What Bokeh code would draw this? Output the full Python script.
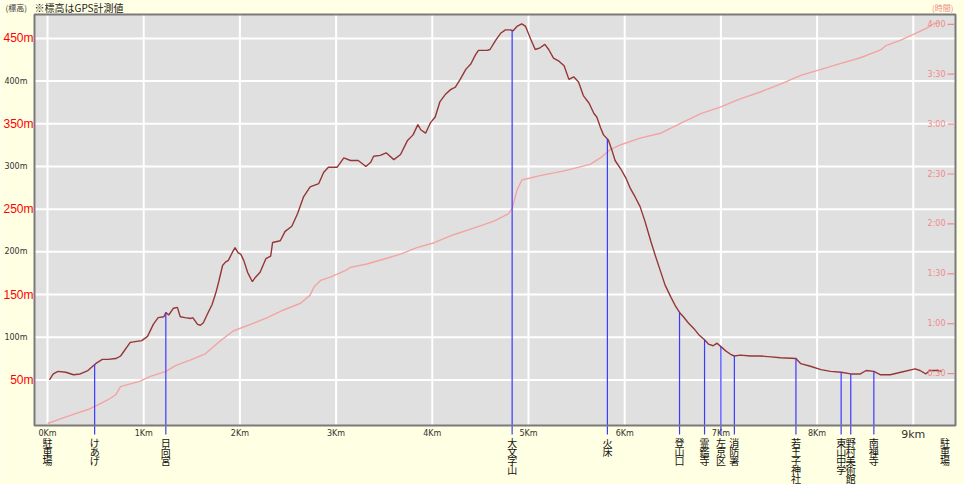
import numpy as np
from bokeh.embed import file_html
from bokeh.resources import INLINE
from bokeh.plotting import figure
from bokeh.models import Range1d
from bokeh.core.properties import value

# ---------------- data ----------------
elev_km = [0.02, 0.06, 0.11, 0.19, 0.27, 0.34, 0.42, 0.47, 0.50, 0.57, 0.63, 0.71, 0.76, 0.86, 0.98,
           1.04, 1.10, 1.15, 1.21, 1.23, 1.26, 1.31, 1.35, 1.38, 1.43, 1.49, 1.51, 1.56, 1.59, 1.62,
           1.67, 1.71, 1.75, 1.78, 1.82, 1.85, 1.88, 1.92, 1.95, 1.98, 2.01, 2.04, 2.08, 2.13, 2.16,
           2.21, 2.27, 2.32, 2.34, 2.42, 2.47, 2.54, 2.60, 2.66, 2.73, 2.82, 2.87, 2.92, 3.01, 3.08,
           3.15, 3.23, 3.31, 3.36, 3.39, 3.46, 3.52, 3.60, 3.67, 3.74, 3.80, 3.85, 3.88, 3.93, 3.98,
           4.03, 4.08, 4.14, 4.19, 4.24, 4.29, 4.35, 4.40, 4.45, 4.48, 4.57, 4.60, 4.66, 4.71, 4.76,
           4.81, 4.84, 4.88, 4.93, 4.97, 5.02, 5.07, 5.12, 5.17, 5.21, 5.26, 5.32, 5.37, 5.42, 5.47,
           5.52, 5.57, 5.63, 5.68, 5.71, 5.75, 5.78, 5.83, 5.87, 5.90, 5.96, 6.01, 6.06, 6.11, 6.16,
           6.21, 6.27, 6.32, 6.37, 6.42, 6.48, 6.53, 6.57, 6.61, 6.66, 6.72, 6.77, 6.83, 6.87, 6.92,
           6.96, 7.00, 7.05, 7.10, 7.14, 7.20, 7.31, 7.41, 7.52, 7.62, 7.78, 7.83, 7.93, 8.04, 8.14,
           8.25, 8.35, 8.45, 8.51, 8.59, 8.66, 8.76, 8.87, 9.02, 9.07, 9.13, 9.17, 9.25, 9.30]
elev_m = [50, 57, 60, 59, 56, 57, 61, 66, 69, 74, 74, 75, 78, 94, 96,
          101, 115, 123, 124, 129, 126, 134, 135, 124, 123, 122, 123, 115, 114, 117,
          129, 138, 152, 165, 184, 188, 190, 199, 205, 199, 197, 190, 176, 165, 170,
          176, 192, 195, 211, 213, 224, 230, 245, 264, 276, 280, 293, 299, 299, 310,
          307, 307, 300, 305, 312, 313, 316, 308, 314, 330, 337, 349, 343, 339, 351,
          358, 376, 385, 390, 393, 402, 414, 420, 431, 436, 436, 437, 448, 456, 460,
          460, 459, 464, 467, 464, 450, 437, 439, 443, 437, 427, 423, 418, 402, 405,
          399, 383, 374, 362, 358, 345, 337, 331, 318, 307, 297, 287, 274, 264, 253,
          236, 213, 195, 178, 161, 147, 136, 129, 124, 117, 110, 103, 97, 92, 90,
          93, 89, 84, 80, 78, 79, 78, 78, 77, 76, 75, 69, 66, 62, 60,
          59, 57, 57, 61, 60, 56, 56, 59, 63, 61, 57, 61, 61, 60]

time_km = [0.00, 0.17, 0.27, 0.42, 0.53, 0.63, 0.71, 0.76, 0.86, 0.95, 1.07, 1.23, 1.33, 1.49, 1.64,
           1.78, 1.93, 2.11, 2.28, 2.46, 2.63, 2.73, 2.77, 2.84, 2.94, 3.10, 3.15, 3.32, 3.50, 3.67,
           3.84, 4.02, 4.22, 4.43, 4.64, 4.79, 4.83, 4.88, 4.93, 5.12, 5.37, 5.64, 5.75, 5.85, 5.96,
           6.16, 6.37, 6.58, 6.79, 7.00, 7.20, 7.41, 7.62, 7.83, 8.04, 8.24, 8.45, 8.66, 8.71, 8.87,
           9.13, 9.20, 9.28]
time_min = [0.0, 3.5, 5.5, 8.4, 11.4, 14.3, 17.3, 22.2, 23.8, 25.2, 28.3, 31.3, 34.8, 38.3, 41.9,
            48.9, 55.6, 59.6, 63.5, 68.4, 72.3, 77.2, 82.1, 86.1, 88.0, 92.0, 93.9, 95.9, 98.9, 101.8,
            105.7, 108.7, 113.5, 117.5, 121.7, 126.0, 129.3, 140.2, 146.4, 149.0, 151.9, 155.8, 159.8, 164.7, 167.6,
            171.6, 174.5, 180.4, 186.3, 190.4, 195.2, 199.3, 204.0, 209.3, 212.9, 216.4, 219.9, 224.6, 227.0, 230.5,
            237.4, 240.0, 241.2]

place_names = ["駐車場", "けあげ", "日向宮", "大文字山", "火床", "登山口", "霊鑑寺", "左京区",
               "消防署", "若王子神社", "東山中学", "野村美術館", "南禅寺", "駐車場"]
place_km = [0.0, 0.49, 1.23, 4.83, 5.82, 6.57, 6.83, 7.00, 7.14, 7.78, 8.25, 8.35, 8.59, 9.33]
place_has_line = [False, True, True, True, True, True, True, True, True, True, True, True, True, False]

km_ticks = [0, 1, 2, 3, 4, 5, 6, 7, 8, 9]
km_tick_labels = ["0Km", "1Km", "2Km", "3Km", "4Km", "5Km", "6Km", "7Km", "8Km", "9km"]
elev_grid = [50, 100, 150, 200, 250, 300, 350, 400, 450]
elev_big_ticks = [50, 150, 250, 350, 450]
elev_big_labels = ["50m", "150m", "250m", "350m", "450m"]
elev_small_ticks = [100, 200, 300, 400]
elev_small_labels = ["100m", "200m", "300m", "400m"]
time_ticks = [30, 60, 90, 120, 150, 180, 210, 240]
time_tick_labels = ["0:30", "1:00", "1:30", "2:00", "2:30", "3:00", "3:30", "4:00"]

# ---------------- layout (pixels of the 964x484 canvas) ----------------
W, H = 964, 484
PX_LEFT, PX_RIGHT, PX_TOP, PX_BOTTOM = 34, 955, 14, 425   # grey plotting area
GX0, GX1 = -0.1351, 9.4387     # km at grey area edges
GY0, GY1 = -3.4, 478.0         # elevation at grey area edges
GT0, GT1 = -1.2, 245.9         # minutes at grey area edges

pxkm = (PX_RIGHT - PX_LEFT) / (GX1 - GX0)
pxm = (PX_BOTTOM - PX_TOP) / (GY1 - GY0)
pxt = (PX_BOTTOM - PX_TOP) / (GT1 - GT0)

XR = Range1d(GX0 - PX_LEFT / pxkm, GX1 + (W - PX_RIGHT) / pxkm)
YR = Range1d(GY0 - (H - PX_BOTTOM) / pxm, GY1 + PX_TOP / pxm)
TR = Range1d(GT0 - (H - PX_BOTTOM) / pxt, GT1 + PX_TOP / pxt)

BG = "#ffffe3"
FRAME = "#e0e0e0"
ELEV_C = "#963636"
TIME_C = "#f4a3a3"
TIME_TXT = "#f08a8a"
BLUE = "#3a3aff"
JP = "Noto Sans CJK JP"

p = figure(width=W, height=H, x_range=XR, y_range=YR, output_backend="svg", toolbar_location=None,
           x_axis_type=None, y_axis_type=None, min_border=0)
p.extra_y_ranges = {"time": TR}
p.background_fill_color = BG
p.border_fill_color = BG
p.outline_line_color = None
p.grid.visible = False

# grey plotting area
p.quad(left=[GX0], right=[GX1], bottom=[GY0], top=[GY1], fill_color=FRAME, line_color=None)

# grid lines
p.segment(x0=km_ticks, x1=km_ticks, y0=[GY0] * len(km_ticks), y1=[GY1] * len(km_ticks),
          line_color="white", line_width=2)
p.segment(x0=[GX0] * len(elev_grid), x1=[GX1] * len(elev_grid), y0=elev_grid, y1=elev_grid,
          line_color="white", line_width=2)

# curves
p.line(time_km, time_min, line_color=TIME_C, line_width=1.4, y_range_name="time")
p.line(elev_km, elev_m, line_color=ELEV_C, line_width=1.4)

# place marker lines
mk = [k for k, f in zip(place_km, place_has_line) if f]
mtop = list(np.interp(mk, elev_km, elev_m))
mbot = [GY0 - 9 / pxm] * len(mk)
p.segment(x0=mk, x1=mk, y0=mtop, y1=mbot, line_color=BLUE, line_width=1.2)

# frame border
p.quad(left=[GX0], right=[GX1], bottom=[GY0], top=[GY1], fill_color=None,
       line_color="#7a7a7a", line_width=2)

# right time labels + ticks
n = len(time_ticks)
p.text(x=[GX1 - 10 / pxkm] * n, y=time_ticks, text=time_tick_labels, y_range_name="time",
       text_align="right", text_baseline="middle", text_font_size="8px", text_color=TIME_TXT,
       text_font=value("DejaVu Sans"))
p.segment(x0=[GX1 - 8 / pxkm] * n, x1=[GX1 - 1 / pxkm] * n, y0=time_ticks, y1=time_ticks,
          y_range_name="time", line_color=TIME_TXT, line_width=1.2)

# left labels
p.text(x=[GX0 - 1 / pxkm] * len(elev_big_ticks), y=elev_big_ticks, text=elev_big_labels,
       text_align="right", text_baseline="middle", text_font_size="12px", text_color="#ff0000",
       text_font=value("Liberation Sans"))
p.text(x=[GX0 - 7 / pxkm] * len(elev_small_ticks), y=elev_small_ticks, text=elev_small_labels,
       text_align="right", text_baseline="middle", text_font_size="8px", text_color="#333333",
       text_font=value("DejaVu Sans"))

# bottom km labels
p.text(x=km_ticks[:9], y=[GY0 - 3 / pxm] * 9, text=km_tick_labels[:9], text_align="center",
       text_baseline="top", text_font_size="8px", text_color="#333333", text_font=value("DejaVu Sans"))
p.text(x=[km_ticks[9]], y=[GY0 - 2 / pxm], text=[km_tick_labels[9]], text_align="center",
       text_baseline="top", text_font_size="11px", text_color="#333333", text_font=value("DejaVu Sans"))

# place names, one character per row
cx, cy, ct = [], [], []
for name, k in zip(place_names, place_km):
    for i, ch in enumerate(name):
        cx.append(k)
        cy.append(GY0 - (9 + 9.0 * i) / pxm)
        ct.append(ch)
p.text(x=cx, y=cy, text=ct, text_align="center", text_baseline="top", text_font=value(JP),
       text_font_size="10px", text_color="#111111")

# header texts (vertically centred 7px above the grey area)
hy = GY1 + 7 / pxm
p.text(x=[GX0 - 29 / pxkm], y=[hy], text=["(標高)"], text_align="left",
       text_baseline="middle", text_font=value(JP), text_font_size="8px", text_color="#333333")
p.text(x=[GX0], y=[hy], text=["※標高はGPS計測値"], text_align="left",
       text_baseline="middle", text_font=value(JP), text_font_size="10px", text_color="#222222")
p.text(x=[GX1 - 2 / pxkm], y=[hy], text=["(時間)"], text_align="right",
       text_baseline="middle", text_font=value(JP), text_font_size="8px", text_color=TIME_TXT)

open("out.html", "w").write(file_html(p, INLINE))
